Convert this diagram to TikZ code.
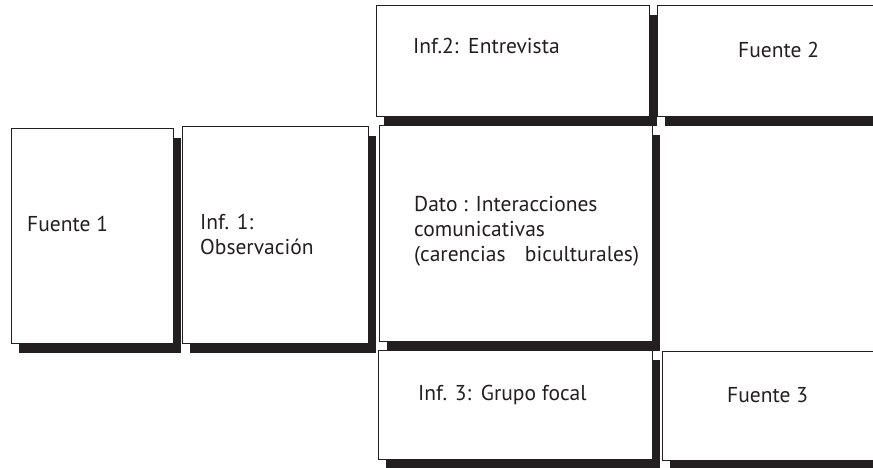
\documentclass[tikz,border=0pt]{standalone}
\usepackage{fontspec}
\setmainfont{PT Sans}
\usepackage{tikz}
\usetikzlibrary{shadows}
\definecolor{inkdark}{HTML}{231F20}
\tikzset{
  box/.style={draw=inkdark, line width=1.3bp, fill=white, anchor=north west, inner sep=0pt,
    general shadow={fill=inkdark, shadow xshift=7bp, shadow yshift=-9bp}},
  txt/.style={anchor=west, align=left, inner sep=0pt, text=inkdark,
    font=\fontsize{21.5bp}{25bp}\selectfont},
}
\begin{document}
\begin{tikzpicture}[x=1bp,y=-1bp]
  \useasboundingbox (0,0) rectangle (873,468);
  \clip (0,0) rectangle (873,468);
  % Boxes
  \node[box, minimum width=162bp, minimum height=215bp] (fuente1) at (11,128) {};
  \node[box, minimum width=186bp, minimum height=217bp] (obs) at (182,126) {};
  \node[box, minimum width=273bp, minimum height=111bp] (entrev) at (376,5) {};
  \node[box, minimum width=230bp, minimum height=111bp] (fuente2) at (657,5) {};
  \node[box, minimum width=273bp, minimum height=216bp] (dato) at (379,125) {};
  \node[box, minimum width=274bp, minimum height=109bp] (grupo) at (378,350) {};
  \node[box, minimum width=230bp, minimum height=109bp] (fuente3) at (662,351) {};
  % Texts
  \node[txt] (tfuente1) at (27,224) {Fuente 1};
  \node[txt] (tobs) at (200,234) {Inf. 1:\\Observación};
  \node[txt] (tentrev) at (413,46) {Inf.2:\hspace{0.45em}Entrevista};
  \node[txt] (tfuente2) at (738,50) {Fuente 2};
  \node[txt] (tdato) at (414,231) {Dato : Interacciones\\comunicativas\\(carencias\hspace{0.9em}biculturales)};
  \node[txt] (tgrupo) at (418,395) {Inf. 3:\hspace{0.45em}Grupo focal};
  \node[txt] (tfuente3) at (727,395) {Fuente 3};
\end{tikzpicture}
\end{document}
